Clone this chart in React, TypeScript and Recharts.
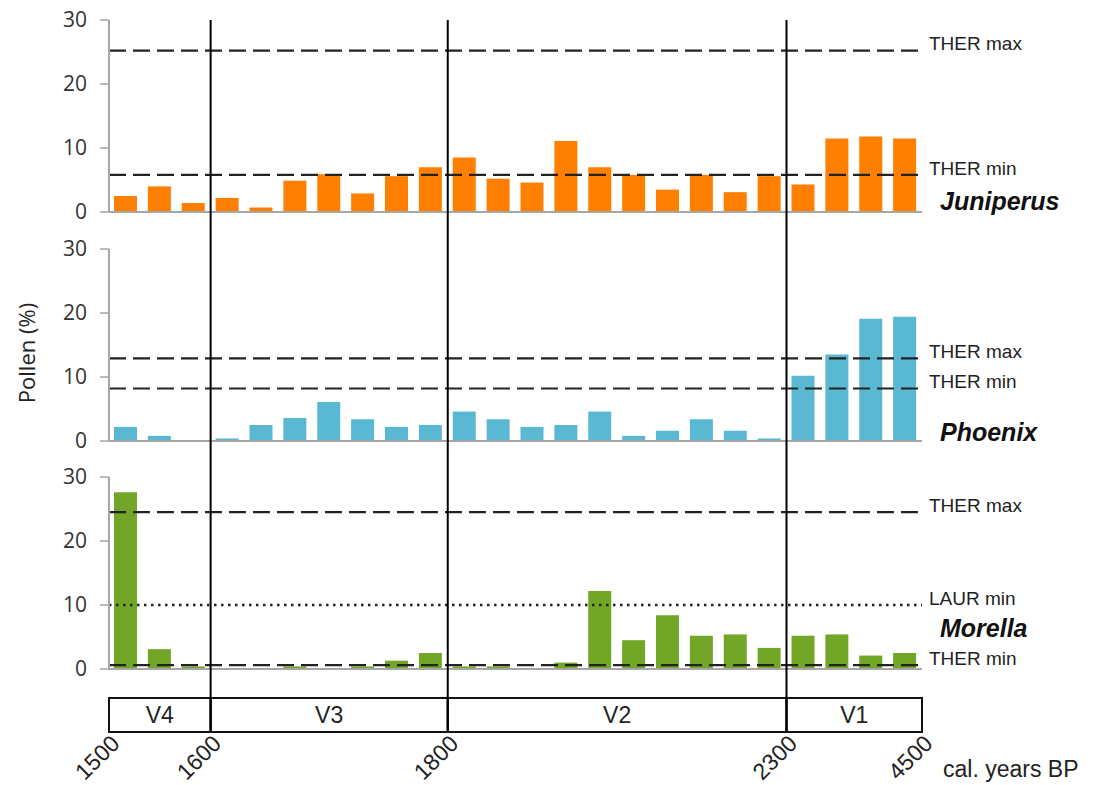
import React from 'react';
import {
    BarChart,
    Bar,
    ComposedChart,
    XAxis,
    YAxis,
    ReferenceLine,
    ReferenceArea,
} from 'recharts';

// pollen percentages per sample level, youngest on the left
const juniperus = [2.5, 4.0, 1.4, 2.2, 0.7, 4.9, 5.9, 2.9, 5.6, 7.0, 8.5, 5.2, 4.6, 11.1, 7.0, 5.8, 3.5, 5.8, 3.1, 5.6, 4.3, 11.5, 11.8, 11.5];
const phoenix = [2.2, 0.8, 0.15, 0.4, 2.5, 3.6, 6.1, 3.4, 2.2, 2.5, 4.6, 3.4, 2.2, 2.5, 4.6, 0.8, 1.6, 3.4, 1.6, 0.4, 10.2, 13.5, 19.1, 19.4];
const morella = [27.6, 3.1, 0.4, 0, 0, 0.4, 0, 0.4, 1.3, 2.5, 0.4, 0.4, 0, 1.0, 12.2, 4.5, 8.4, 5.2, 5.4, 3.3, 5.2, 5.4, 2.1, 2.5];

// climate thresholds
const juniperusThresholds = [
    { label: 'THER max', value: 25.2 },
    { label: 'THER min', value: 5.8 },
];
const phoenixThresholds = [
    { label: 'THER max', value: 12.9 },
    { label: 'THER min', value: 8.2 },
];
const morellaThresholds = [
    { label: 'THER max', value: 24.5 },
    { label: 'LAUR min', value: 10 },
    { label: 'THER min', value: 0.6 },
];

// zones and their age limits (sample index where a zone starts / ends)
const zones = ['V4', 'V3', 'V2', 'V1'];
const zoneBounds = [0, 3, 10, 20, 24];
const ageLabels = ['1500', '1600', '1800', '2300', '4500'];
const yTicks = [0, 10, 20, 30];

const N = juniperus.length;
const samples = juniperus.map((v, i) => ({
    pos: i + 0.5,
    juniperus: v,
    phoenix: phoenix[i],
    morella: morella[i],
}));
const boundaries = Array.from({ length: N + 1 }, (_, i) => i);

const AXIS_GREY = '#a6a6a6';
const TEXT = '#222';

type Threshold = { label: string; value: number };

const Panel = ({ top, dataKey, color, thresholds }: { top: number; dataKey: string; color: string; thresholds: Threshold[] }) => (
    <div style={{ position: 'absolute', left: 0, top }}>
        <BarChart width={1096} height={226} data={samples} margin={{ top: 20, right: 174, left: 1, bottom: 0 }}>
            <XAxis
                type="number"
                dataKey="pos"
                domain={[0, N]}
                ticks={boundaries}
                interval={0}
                tick={false}
                tickSize={6}
                height={14}
                axisLine={{ stroke: AXIS_GREY, strokeWidth: 2 }}
                tickLine={{ stroke: AXIS_GREY, strokeWidth: 1.5 }}
            />
            <YAxis
                domain={[0, 30]}
                ticks={yTicks}
                interval={0}
                width={108}
                tickSize={9}
                tickMargin={13}
                axisLine={{ stroke: AXIS_GREY, strokeWidth: 2 }}
                tickLine={{ stroke: AXIS_GREY, strokeWidth: 1.5 }}
                tick={{ fill: '#333', fontSize: 21, fontFamily: 'Open Sans' }}
            />
            <Bar dataKey={dataKey} fill={color} barSize={23} isAnimationActive={false} />
            {thresholds.map((t) => (
                <ReferenceLine
                    key={t.label}
                    y={t.value}
                    stroke={TEXT}
                    strokeWidth={t.label.startsWith('LAUR') ? 2.5 : 2.2}
                    strokeDasharray={t.label.startsWith('LAUR') ? '2.5 4.5' : '17 7'}
                    label={{
                        value: t.label,
                        position: 'right',
                        offset: 7,
                        dy: -7,
                        fill: TEXT,
                        fontSize: 19,
                        fontFamily: 'Liberation Sans',
                    }}
                />
            ))}
        </BarChart>
    </div>
);

const AgeTick = (props: any) => {
    const { x, y, payload } = props;
    const label = ageLabels[zoneBounds.indexOf(payload.value)];
    const px = x + 12;
    const py = y + 13;
    return (
        <text
            x={px}
            y={py}
            textAnchor="end"
            transform={`rotate(-45 ${px} ${py})`}
            fontFamily="Liberation Sans"
            fontSize={23}
            fill={TEXT}
        >
            {label}
        </text>
    );
};

export default function App() {
    const speciesStyle = { fontFamily: 'Liberation Sans', fontSize: 25, fontWeight: 700, fontStyle: 'italic' as const, fill: '#111' };
    return (
        <div style={{ position: 'absolute', left: 0, top: 0, width: 1096, height: 785, background: '#fff' }}>
            <Panel top={0} dataKey="juniperus" color="#ff7f00" thresholds={juniperusThresholds} />
            <Panel top={229} dataKey="phoenix" color="#5bb8d2" thresholds={phoenixThresholds} />
            <Panel top={457} dataKey="morella" color="#72a626" thresholds={morellaThresholds} />

            {/* zone lines, zone box and age axis across all panels */}
            <div style={{ position: 'absolute', left: 0, top: 0 }}>
                <ComposedChart
                    width={1096}
                    height={785}
                    data={zoneBounds.map((b) => ({ pos: b }))}
                    margin={{ top: 20, right: 174, left: 109, bottom: 0 }}
                >
                    <XAxis
                        type="number"
                        dataKey="pos"
                        domain={[0, N]}
                        ticks={zoneBounds}
                        interval={0}
                        axisLine={false}
                        tickLine={false}
                        tickSize={0}
                        tickMargin={0}
                        height={53}
                        tick={(p: any) => <AgeTick {...p} />}
                    />
                    <YAxis hide type="number" domain={[0, 21]} allowDataOverflow />
                    {zones.map((z, i) => (
                        <ReferenceArea
                            key={z}
                            x1={zoneBounds[i]}
                            x2={zoneBounds[i + 1]}
                            y1={0}
                            y2={1}
                            stroke="#111"
                            strokeWidth={2}
                            fill="#fff"
                            fillOpacity={0}
                            ifOverflow="visible"
                            label={{ value: z, position: 'center', fill: TEXT, fontSize: 23, fontFamily: 'Liberation Sans' }}
                        />
                    ))}
                    {zoneBounds.slice(1, -1).map((b) => (
                        <ReferenceLine key={b} x={b} stroke="#000" strokeWidth={2} ifOverflow="visible" />
                    ))}
                </ComposedChart>
            </div>

            <svg width={1096} height={785} style={{ position: 'absolute', left: 0, top: 0, pointerEvents: 'none' }}>
                <text
                    x={26}
                    y={353}
                    transform="rotate(-90 26 353)"
                    textAnchor="middle"
                    dominantBaseline="central"
                    fontFamily="Open Sans"
                    fontSize={22}
                    fill={TEXT}
                >
                    Pollen (%)
                </text>
                <text x={940} y={210} {...speciesStyle}>Juniperus</text>
                <text x={940} y={441} {...speciesStyle}>Phoenix</text>
                <text x={940} y={637} {...speciesStyle}>Morella</text>
                <text x={943} y={777} fontFamily="Liberation Sans" fontSize={23} fill={TEXT}>
                    cal. years BP
                </text>
            </svg>
        </div>
    );
}
